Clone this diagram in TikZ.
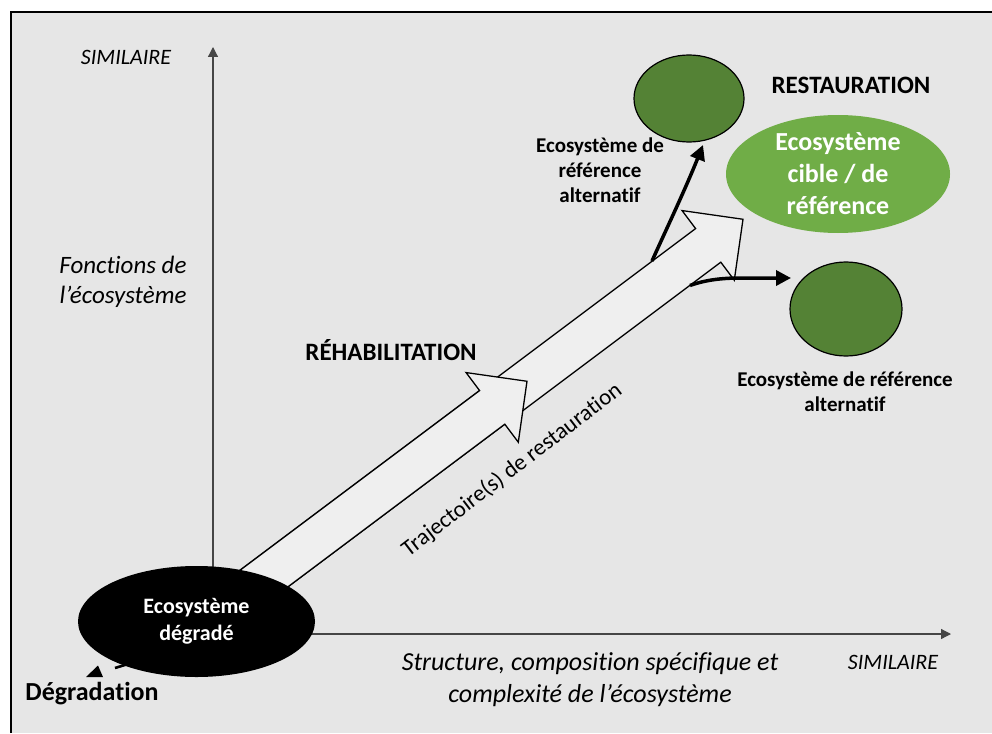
\documentclass[tikz,border=0pt]{standalone}
\usepackage{fontspec}
\setmainfont{Carlito}[Ligatures=NoCommon]
\usetikzlibrary{shapes.geometric,arrows.meta}
\definecolor{bggray}{RGB}{230,230,230}
\definecolor{arrowfill}{RGB}{239,239,239}
\definecolor{darkgreen}{RGB}{84,130,53}
\definecolor{lightgreen}{RGB}{112,173,71}
\definecolor{axisgray}{RGB}{70,70,70}
\tikzset{
  lbl/.style={inner sep=0pt, align=center, text=black},
  axisline/.style={draw=axisgray, line width=1.2pt, -{Triangle[length=10pt,width=10pt]}},
  bigarrow/.style={draw=black, fill=arrowfill, line width=1.3pt, line join=miter},
  thickarrow/.style={draw=black, line width=3.5pt, -{Triangle[length=15pt,width=15pt]}},
  greencircle/.style={ellipse, draw=black, line width=1.2pt, fill=darkgreen, inner sep=0pt},
  itlbl/.style={lbl, font=\itshape\fontsize{25}{30}\selectfont},
  simlbl/.style={lbl, font=\itshape\fontsize{22}{26}\selectfont},
  bflbl/.style={lbl, font=\bfseries\fontsize{25}{30}\selectfont},
  altlbl/.style={lbl, font=\bfseries\fontsize{21}{25}\selectfont},
}
\begin{document}
\begin{tikzpicture}[x=1pt,y=-1pt]
\useasboundingbox (0,0) rectangle (992,733);
% background and frame
\fill[white] (0,0) rectangle (992,733);
\fill[bggray] (11,12) rectangle (992,733);
\draw[black, line width=1.6pt] (11,733) -- (11,12) -- (992,12);

% axes
\coordinate (origin) at (213,634);
\coordinate (ytip) at (213,47);
\coordinate (xtip) at (951,634);
\draw[axisline] (origin) -- (ytip);
\draw[axisline] (origin) -- (xtip);

% big arrows (trajectories)
\begin{scope}[shift={(190,634)}, rotate=36.87]
  \draw[bigarrow] (0,-21) -- (647.75,-21) -- (647.75,-43.5) -- (691.25,0) -- (647.75,43.5) -- (647.75,21) -- (0,21) -- cycle;
  \draw[bigarrow] (0,-21) -- (377.75,-21) -- (377.75,-43.5) -- (421.25,0) -- (377.75,43.5) -- (377.75,21) -- (0,21) -- cycle;
\end{scope}

% degraded ecosystem
\node[ellipse, fill=black, minimum width=237pt, minimum height=111pt, inner sep=0pt,
      text=white, align=center, font=\bfseries\fontsize{22}{27}\selectfont] (deg) at (196.5,621.5) {Ecosystème\\dégradé};

% degradation mark
\coordinate (dg1) at (128,664);
\coordinate (dg2) at (115,668);
\draw[black, line width=2.6pt] (dg1) -- (dg2);
\fill[black] (86,677) -- (103,677) -- (98,665.5) -- cycle;
\node[lbl, font=\bfseries\fontsize{26}{30}\selectfont] (degr) at (92,694) {Dégradation};

% target ecosystems
\node[greencircle, minimum width=110pt, minimum height=87pt] (alt1) at (689,98.5) {};
\node[greencircle, minimum width=112pt, minimum height=94pt] (alt2) at (846,309) {};
\node[ellipse, fill=lightgreen, minimum width=224pt, minimum height=118pt, inner sep=0pt,
      text=white, align=center, font=\bfseries\fontsize{26}{32}\selectfont] (target) at (838,174) {Ecosystème\\cible / de\\référence};

% branch arrows
\coordinate (b1s) at (652,261);
\coordinate (b1e) at (703,145);
\coordinate (b2s) at (690,285.5);
\coordinate (b2m) at (740,278);
\coordinate (b2e) at (791,278);
\draw[thickarrow] (b1s) .. controls (665,232) and (685,190) .. (b1e);
\draw[thickarrow] (b2s) .. controls (705,280) and (722,278) .. (b2m) -- (b2e);

% labels
\node[simlbl] (simy) at (126,57) {SIMILAIRE};
\node[simlbl] (simx) at (893,662) {SIMILAIRE};
\node[itlbl] (fonc) at (123,282) {Fonctions de\\l’écosystème};
\node[lbl, font=\itshape\fontsize{26}{32}\selectfont] (struct) at (590,680) {Structure, composition spécifique et\\complexité de l’écosystème};
\node[bflbl] (rehab) at (391,350) {RÉHABILITATION};
\node[bflbl] (resto) at (851,85) {RESTAURATION};
\node[altlbl] (alt1lbl) at (600,170) {Ecosystème de\\référence\\alternatif};
\node[altlbl] (alt2lbl) at (845,392) {Ecosystème de référence\\alternatif};
\node[lbl, font=\fontsize{23}{28}\selectfont, rotate=37.4] (traj) at (512,470) {Trajectoire(s) de restauration};
\end{tikzpicture}
\end{document}
